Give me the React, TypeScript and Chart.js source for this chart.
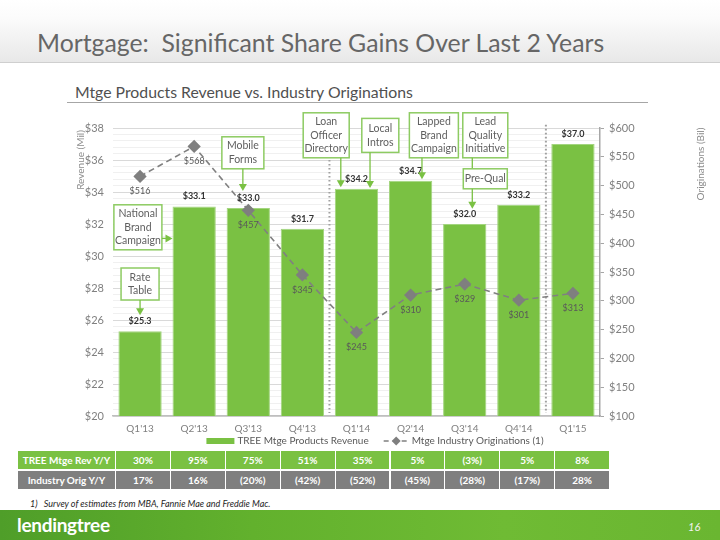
import React, { useEffect, useRef } from 'react';
import { Chart, registerables } from 'chart.js';
Chart.register(...registerables);

const FONT = "Lato, 'Open Sans', sans-serif";

const quarters = ["Q1'13", "Q2'13", "Q3'13", "Q4'13", "Q1'14", "Q2'14", "Q3'14", "Q4'14", "Q1'15"];
const revenue = [25.3, 33.1, 33.0, 31.7, 34.2, 34.7, 32.0, 33.2, 37.0];
const originations = [516, 568, 457, 345, 245, 310, 329, 301, 313];
const revYoY = ['30%', '95%', '75%', '51%', '35%', '5%', '(3%)', '5%', '8%'];
const origYoY = ['17%', '16%', '(20%)', '(42%)', '(52%)', '(45%)', '(28%)', '(17%)', '28%'];
const rowLabels = ['TREE Mtge Rev Y/Y', 'Industry Orig Y/Y'];

// vertical dotted dividers: [category position, top value on revenue axis]
const dividerPos = [3.5, 7.5];
const dividerTop = [36.0, 38.2];

// callouts: position in category / revenue units, box size in px
const callouts = [
  { lines: ['Rate', 'Table'], cx: 0, top: 29.25, w: 38, h: 32, side: 'bottom', a: 0, to: 26.3, head: true },
  { lines: ['National', 'Brand', 'Campaign'], cx: -0.04, top: 33.2, w: 48, h: 45, side: 'right', a: 31.1, to: 0.6, head: true },
  { lines: ['Mobile', 'Forms'], cx: 1.9, top: 37.45, w: 42, h: 32, side: 'bottom', a: 1.9, to: 34.06, head: true },
  { lines: ['Loan', 'Officer', 'Directory'], cx: 3.44, top: 38.95, w: 46, h: 45, side: 'bottom', a: 3.71, to: 34.3, head: true },
  { lines: ['Local', 'Intros'], cx: 4.44, top: 38.6, w: 37, h: 34, side: 'bottom', a: 4.25, to: 34.25, head: true },
  { lines: ['Lapped', 'Brand', 'Campaign'], cx: 5.43, top: 38.95, w: 49, h: 45, side: 'bottom', a: 5.21, to: 34.8, head: true },
  { lines: ['Lead', 'Quality', 'Initiative'], cx: 6.38, top: 38.95, w: 45, h: 45, side: 'bottom', a: 6.14, to: 35.45, head: false },
  { lines: ['Pre-Qual'], cx: 6.38, top: 35.45, w: 44, h: 20, side: 'bottom', a: 6.14, to: 32.95, head: true },
];

const yTicks: number[] = [];
for (let k = 0; k <= 45; k++) yTicks.push(Math.round((20 + 0.4 * k) * 10) / 10);
const isMajor = (v: number) => Math.abs(v / 2 - Math.round(v / 2)) < 1e-6;

const GREEN = '#7AC143';
const BOX_GREEN = '#8DCB62';

function arrowHead(ctx: CanvasRenderingContext2D, x: number, y: number, dir: 'down' | 'right') {
  ctx.beginPath();
  if (dir === 'down') {
    ctx.moveTo(x, y);
    ctx.lineTo(x - 4, y - 7);
    ctx.lineTo(x + 4, y - 7);
  } else {
    ctx.moveTo(x, y);
    ctx.lineTo(x - 7, y - 4);
    ctx.lineTo(x - 7, y + 4);
  }
  ctx.closePath();
  ctx.fill();
}

const annot = {
  id: 'annot',
  beforeDatasetsDraw(chart: any) {
    const { ctx, scales } = chart;
    const xs = scales.x, ys = scales.y;
    ctx.save();
    ctx.strokeStyle = '#a0a0a0';
    ctx.lineWidth = 2;
    ctx.setLineDash([1.6, 2.4]);
    dividerPos.forEach((p, i) => {
      const x = xs.getPixelForValue(p);
      ctx.beginPath();
      ctx.moveTo(x, ys.getPixelForValue(dividerTop[i]));
      ctx.lineTo(x, ys.bottom - 3);
      ctx.stroke();
    });
    ctx.restore();
  },
  afterDatasetsDraw(chart: any) {
    const { ctx, scales } = chart;
    const xs = scales.x, ys = scales.y, y1 = scales.y1;
    ctx.save();
    // bar labels
    ctx.font = `bold 9px ${FONT}`;
    ctx.fillStyle = '#333333';
    ctx.textAlign = 'center';
    ctx.textBaseline = 'middle';
    revenue.forEach((v, i) => {
      ctx.fillText('$' + v.toFixed(1), xs.getPixelForValue(i), ys.getPixelForValue(v) - 10);
    });
    // line labels
    ctx.font = `9px ${FONT}`;
    ctx.fillStyle = '#595959';
    originations.forEach((v, i) => {
      ctx.fillText('$' + v, xs.getPixelForValue(i), y1.getPixelForValue(v) + 15);
    });
    // callouts
    callouts.forEach((c) => {
      const cx = xs.getPixelForValue(c.cx);
      const top = ys.getPixelForValue(c.top);
      const left = cx - c.w / 2;
      ctx.fillStyle = '#ffffff';
      ctx.fillRect(left, top, c.w, c.h);
      ctx.strokeStyle = BOX_GREEN;
      ctx.lineWidth = 1.5;
      ctx.setLineDash([]);
      ctx.strokeRect(left, top, c.w, c.h);
      ctx.fillStyle = '#5f5f5f';
      ctx.font = `10.5px ${FONT}`;
      const lh = 13.5;
      const startY = top + c.h / 2 - ((c.lines.length - 1) * lh) / 2;
      c.lines.forEach((t, k) => ctx.fillText(t, cx, startY + k * lh));
      ctx.strokeStyle = GREEN;
      ctx.fillStyle = GREEN;
      ctx.lineWidth = 1.3;
      if (c.side === 'bottom') {
        const ax = xs.getPixelForValue(c.a);
        const ty = ys.getPixelForValue(c.to);
        ctx.beginPath();
        ctx.moveTo(ax, top + c.h);
        ctx.lineTo(ax, c.head ? ty - 5 : ty);
        ctx.stroke();
        if (c.head) arrowHead(ctx, ax, ty, 'down');
      } else {
        const ay = ys.getPixelForValue(c.a);
        const tx = xs.getPixelForValue(c.to);
        ctx.beginPath();
        ctx.moveTo(left + c.w, ay);
        ctx.lineTo(tx - 5, ay);
        ctx.stroke();
        arrowHead(ctx, tx, ay, 'right');
      }
    });
    ctx.restore();
  },
  afterDraw(chart: any) {
    const { ctx, chartArea } = chart;
    ctx.save();
    // axis titles
    ctx.fillStyle = '#8c8c8c';
    ctx.font = `10px ${FONT}`;
    ctx.textAlign = 'center';
    ctx.textBaseline = 'middle';
    ctx.save();
    ctx.translate(81, chartArea.top + 32);
    ctx.rotate(-Math.PI / 2);
    ctx.fillText('Revenue (Mil)', 0, 0);
    ctx.restore();
    ctx.save();
    ctx.translate(701, chartArea.top + 36);
    ctx.rotate(-Math.PI / 2);
    ctx.fillText('Originations (Bil)', 0, 0);
    ctx.restore();
    // legend
    const ly = chartArea.bottom + 25;
    ctx.font = `10px ${FONT}`;
    ctx.textAlign = 'left';
    const t1 = 'TREE Mtge Products Revenue';
    const t2 = 'Mtge Industry Originations (1)';
    const w1 = ctx.measureText(t1).width;
    const w2 = ctx.measureText(t2).width;
    const total = 28 + 3 + w1 + 15 + 25 + 3 + w2;
    let x = 375 - total / 2;
    ctx.fillStyle = GREEN;
    ctx.fillRect(x, ly - 3, 28, 6);
    x += 31;
    ctx.fillStyle = '#595959';
    ctx.fillText(t1, x, ly);
    x += w1 + 15;
    ctx.strokeStyle = '#808080';
    ctx.lineWidth = 1.6;
    ctx.setLineDash([5, 4]);
    ctx.beginPath();
    ctx.moveTo(x, ly);
    ctx.lineTo(x + 25, ly);
    ctx.stroke();
    ctx.setLineDash([]);
    ctx.fillStyle = '#7f7f7f';
    ctx.beginPath();
    ctx.moveTo(x + 12.5, ly - 4.5);
    ctx.lineTo(x + 17, ly);
    ctx.lineTo(x + 12.5, ly + 4.5);
    ctx.lineTo(x + 8, ly);
    ctx.closePath();
    ctx.fill();
    x += 28;
    ctx.fillStyle = '#595959';
    ctx.fillText(t2, x, ly);
    ctx.restore();
  },
};

export default function App() {
  const ref = useRef<HTMLCanvasElement>(null);
  useEffect(() => {
    if (!ref.current) return;
    const chart = new Chart(ref.current, {
      data: {
        labels: quarters,
        datasets: [
          {
            type: 'line',
            label: 'Mtge Industry Originations (1)',
            data: originations,
            yAxisID: 'y1',
            borderColor: '#808080',
            borderWidth: 1.6,
            borderDash: [6, 4],
            pointStyle: 'rectRot',
            pointRadius: 5.5,
            pointBackgroundColor: '#7f7f7f',
            pointBorderColor: '#7f7f7f',
            tension: 0,
            order: 0,
          } as any,
          {
            type: 'bar',
            label: 'TREE Mtge Products Revenue',
            data: revenue,
            yAxisID: 'y',
            backgroundColor: GREEN,
            borderColor: '#A3D57F',
            borderWidth: 1,
            barPercentage: 0.8,
            categoryPercentage: 1,
            order: 1,
          } as any,
        ],
      },
      options: {
        responsive: false,
        maintainAspectRatio: false,
        animation: false,
        layout: { padding: { top: 128, left: 0, right: 0, bottom: 0 } },
        plugins: { legend: { display: false }, tooltip: { enabled: false } },
        scales: {
          x: {
            grid: { color: 'transparent', drawTicks: false },
            border: { color: '#bfbfbf', width: 1.5 },
            ticks: { color: '#808080', font: { family: FONT, size: 10 }, padding: 7 },
            afterFit: (s: any) => { s.height = 124; },
          },
          y: {
            position: 'left',
            min: 20,
            max: 38,
            afterBuildTicks: (s: any) => { s.ticks = yTicks.map((v) => ({ value: v })); },
            ticks: {
              autoSkip: false,
              color: '#808080',
              font: { family: FONT, size: 11 },
              padding: 9,
              callback: (v: any) => (isMajor(Number(v)) ? '$' + Math.round(Number(v)) : ''),
            },
            grid: {
              drawTicks: false,
              color: (c: any) => (c.tick && isMajor(c.tick.value) ? '#d9d9d9' : '#f0f0f0'),
            },
            border: { display: false },
            afterFit: (s: any) => { s.width = 113; },
          },
          y1: {
            position: 'right',
            min: 100,
            max: 600,
            ticks: {
              stepSize: 50,
              color: '#808080',
              font: { family: FONT, size: 11 },
              padding: 5,
              callback: (v: any) => '$' + v,
            },
            grid: { drawOnChartArea: false, tickLength: 4, color: '#a6a6a6' },
            border: { color: '#a6a6a6', width: 1.5 },
            afterFit: (s: any) => { s.width = 120; },
          },
        },
      } as any,
      plugins: [annot],
    });
    return () => chart.destroy();
  }, []);

  const colLeft = (i: number) => 116 + i * 54.9;
  const cell = (bg: string, left: number, top: number, width: number, text: string) => (
    <div
      key={`${left}-${top}`}
      style={{
        position: 'absolute', left, top, width, height: 18, background: bg, color: '#fff',
        fontWeight: 700, fontSize: 10, lineHeight: '18px', textAlign: 'center', whiteSpace: 'nowrap',
      }}
    >
      {text}
    </div>
  );

  return (
    <div style={{ position: 'absolute', left: 0, top: 0, width: 720, height: 540, background: '#fff', overflow: 'hidden', fontFamily: FONT }}>
      <div style={{ position: 'absolute', left: 0, top: 0, width: 720, height: 62, background: 'linear-gradient(#ffffff 0%, #fbfbfb 30%, #e8e8e8 100%)', borderBottom: '1px solid #cfcfcf' }} />
      <div style={{ position: 'absolute', left: 37, top: 28, fontSize: 24.8, lineHeight: '30px', color: '#666666', whiteSpace: 'pre' }}>
        {'Mortgage:  Significant Share Gains Over Last 2 Years'}
      </div>
      <div style={{ position: 'absolute', left: 75, top: 82, fontSize: 15.8, lineHeight: '20px', color: '#505050', whiteSpace: 'nowrap' }}>
        Mtge Products Revenue vs. Industry Originations
      </div>
      <div style={{ position: 'absolute', left: 67, top: 102, width: 581, height: 1, background: '#a6a6a6' }} />

      {cell(GREEN, 18, 451, 97, rowLabels[0])}
      {revYoY.map((t, i) => cell(GREEN, colLeft(i), 451, 53.9, t))}
      {cell('#7F7F7F', 18, 471, 97, rowLabels[1])}
      {origYoY.map((t, i) => cell('#7F7F7F', colLeft(i), 471, 53.9, t))}

      <div style={{ position: 'absolute', left: 30, top: 497, fontSize: 9, lineHeight: '14px', fontStyle: 'italic', color: '#262626', whiteSpace: 'pre' }}>
        {'1)   Survey of estimates from MBA, Fannie Mae and Freddie Mac.'}
      </div>

      <div style={{ position: 'absolute', left: 0, top: 510, width: 720, height: 30, background: 'linear-gradient(90deg, #4f9e29 0%, #62b12d 35%, #6fbb34 70%, #6ab631 100%)' }} />
      <div style={{ position: 'absolute', left: 17, top: 513, fontSize: 19, lineHeight: '24px', fontWeight: 700, color: '#ffffff', letterSpacing: -0.3 }}>
        lendingtree
      </div>
      <div style={{ position: 'absolute', left: 688, top: 519, fontSize: 11, lineHeight: '16px', fontStyle: 'italic', color: '#f2f2f2' }}>16</div>

      <canvas ref={ref} width={720} height={540} style={{ position: 'absolute', left: 0, top: 0, width: 720, height: 540 }} />
    </div>
  );
}
